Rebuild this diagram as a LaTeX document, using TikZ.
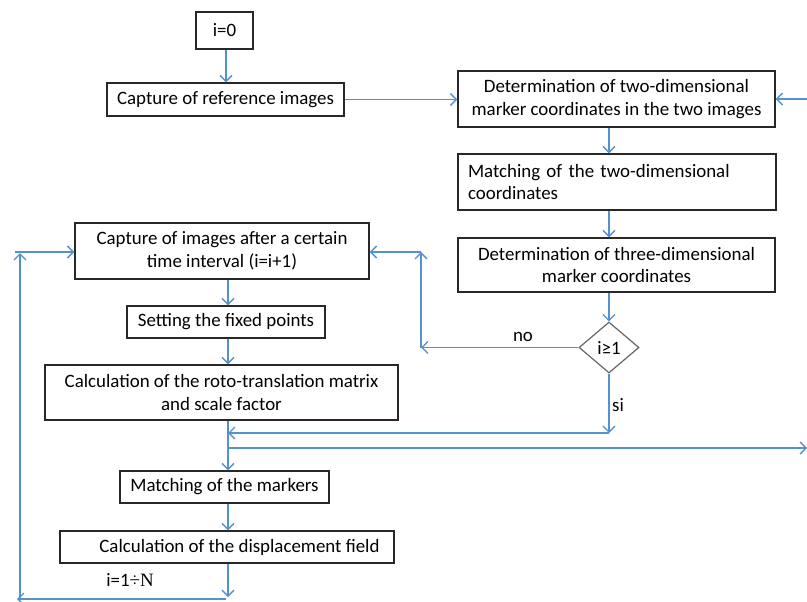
\documentclass[tikz,border=0pt]{standalone}
\usepackage{fontspec}
\setmainfont{Carlito}
\newfontfamily\lserif{Liberation Serif}
\usetikzlibrary{arrows.meta,shapes.geometric}
\definecolor{conn}{RGB}{84,145,205}
\definecolor{boxline}{RGB}{40,40,40}
\begin{document}
\begin{tikzpicture}[x=1pt,y=-1pt,
  font=\fontsize{18.9}{22.8}\selectfont,
  box/.style={draw=boxline,line width=1.4pt,fill=white,inner sep=0pt,align=center},
  arr/.style={draw=conn,line width=1.5pt,-{Straight Barb[length=6pt,width=12pt,line width=1.3pt]}},
  ln/.style={draw=conn,line width=1.5pt}]
\useasboundingbox (0,0) rectangle (807,602);
\fill[white] (0,0) rectangle (807,602);
% nodes
\node[box,minimum width=57pt,minimum height=37pt] (n0) at (224.5,30.5) {i=0};
\node[box,minimum width=237pt,minimum height=33pt] (cref) at (225.5,99.5) {Capture of reference images};
\node[box,minimum width=317pt,minimum height=56pt] (det2) at (616.5,99) {Determination of two-dimensional\\marker coordinates in the two images};
\node[box,text width=298pt,inner xsep=10pt,minimum height=56pt,align=left] (m2) at (617,182) {Matching of the two-dimensional\\coordinates};
\node[box,minimum width=317pt,minimum height=54pt] (det3) at (616.5,265) {Determination of three-dimensional\\marker coordinates};
\node[draw=gray!80!black,line width=1.2pt,shape=diamond,minimum width=60pt,minimum height=51pt,inner sep=0pt,fill=white] (dia) at (609,347.5) {i≥1};
\node[box,minimum width=294pt,minimum height=56pt] (cap) at (222,251) {Capture of images after a certain\\time interval (i=i+1)};
\node[box,minimum width=198pt,minimum height=32pt] (fix) at (226,322) {Setting the fixed points};
\node[box,minimum width=353pt,minimum height=55pt] (roto) at (221.5,392.5) {Calculation of the roto-translation matrix\\and scale factor};
\node[box,minimum width=209pt,minimum height=32pt] (mm) at (224.5,487) {Matching of the markers};
\node[box,minimum width=334pt,minimum height=32pt] (disp) at (227,547) {\hspace*{25pt}Calculation of the displacement field};
% labels
\node (lno) at (523,337) {no};
\node (lsi) at (618,405) {si};
\node (lN) at (130,580) {i=1{\lserif ÷N}};
% coordinates
\coordinate (rin) at (807,99);
\coordinate (nk) at (421,347.5);
\coordinate (nt) at (421,252);
\coordinate (sj) at (609,433);
\coordinate (j1) at (228,433);
\coordinate (j2) at (228,448);
\coordinate (rout) at (807,448);
\coordinate (b1) at (228,597);
\coordinate (b1s) at (226,599);
\coordinate (b2) at (17,599);
\coordinate (b2v) at (20,599);
\coordinate (b3) at (20,253);
\coordinate (b3h) at (15,252);
% connectors
\draw[arr] (n0.south -| 226,0) -- (cref.north -| 226,0);
\draw[arr] (cref.east) -- (cref.east -| det2.west);
\draw[arr] (rin) -- (det2.east);
\draw[arr] (det2.south -| dia.north) -- (m2.north -| dia.north);
\draw[arr] (m2.south -| dia.north) -- (det3.north -| dia.north);
\draw[arr] (det3.south -| dia.north) -- (dia.north);
\draw[arr] (dia.west) -- (nk);
\draw[arr] (nk) -- (nt);
\draw[arr] (nt) -- (cap.east |- nt);
\draw[arr] (dia.south) -- (sj);
\draw[arr] (sj) -- (j1);
\draw[arr] (roto.south -| j1) -- (mm.north -| j1);
\draw[arr] (j2) -- (rout);
\draw[arr] (fix.south -| 228,0) -- (roto.north -| 228,0);
\draw[arr] (cap.south -| 228,0) -- (fix.north -| 228,0);
\draw[arr] (mm.south -| j1) -- (disp.north -| j1);
\draw[arr] (disp.south -| b1) -- (b1);
\draw[arr] (b1s) -- (b2);
\draw[arr] (b2v) -- (b3);
\draw[arr] (b3h) -- (cap.west |- b3h);
\end{tikzpicture}
\end{document}
